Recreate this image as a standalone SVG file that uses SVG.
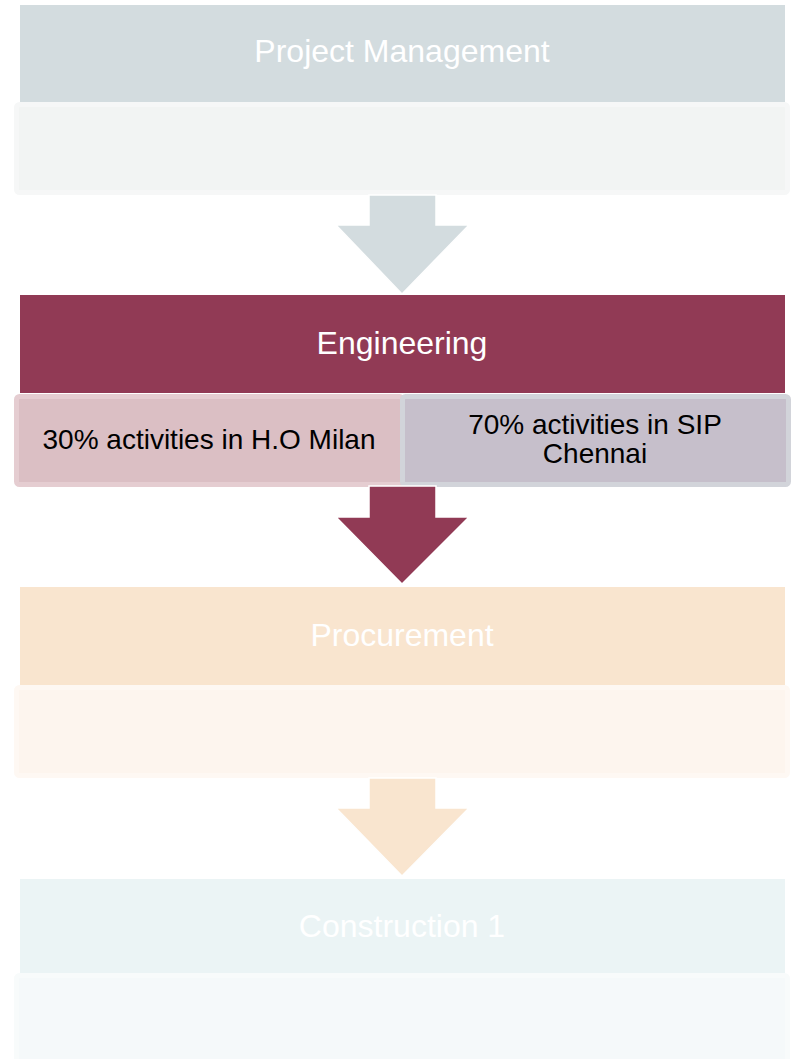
<svg xmlns="http://www.w3.org/2000/svg" width="792" height="1059" viewBox="0 0 792 1059">
<style>
.hdr{font-family:"Liberation Sans",Arial,sans-serif;font-size:32px;text-anchor:middle;fill:#ffffff}
.sub{font-family:"Liberation Sans",Arial,sans-serif;font-size:28px;text-anchor:middle;fill:#000000}
.body{stroke-width:5}
.arrow{stroke:#ffffff;stroke-width:1.5;stroke-linejoin:miter}
</style>
<rect width="792" height="1059" fill="#ffffff"/>
<g id="project-management">
  <rect x="20" y="5" width="765" height="97" fill="#d3dcdf"/>
  <rect class="body" x="16.5" y="104.5" width="771" height="88" rx="3" fill="#f2f4f3" stroke="#f6f7f7"/>
  <text class="hdr" x="402" y="62">Project Management</text>
</g>
<g id="engineering">
  <rect x="20" y="295" width="765" height="98" fill="#913a55"/>
  <text class="hdr" x="402" y="354">Engineering</text>
  <g id="engineering-milan">
    <rect class="body" x="16.5" y="396.5" width="386" height="88" rx="3" fill="#dbbfc4" stroke="#e5cdd1"/>
    <text class="sub" x="209" y="449">30% activities in H.O Milan</text>
  </g>
  <g id="engineering-chennai">
    <rect class="body" x="402.5" y="396.5" width="386" height="88" rx="3" fill="#c6bfcb" stroke="#d2d4da"/>
    <text class="sub" x="595" y="434">70% activities in SIP</text>
    <text class="sub" x="595" y="463">Chennai</text>
  </g>
</g>
<g id="procurement">
  <rect x="20" y="587" width="765" height="98" fill="#f9e5cf"/>
  <rect class="body" x="16.5" y="687.5" width="771" height="88" rx="3" fill="#fdf5ee" stroke="#fef8f3"/>
  <text class="hdr" x="402" y="646">Procurement</text>
</g>
<g id="construction-1">
  <rect x="20" y="879" width="765" height="94" fill="#ebf4f5"/>
  <rect class="body" x="16.5" y="975.5" width="771" height="90" rx="3" fill="#f5f9fa" stroke="#f8fbfb"/>
  <text class="hdr" x="402" y="937">Construction 1</text>
</g>
<g id="connectors">
  <polygon class="arrow" fill="#d3dcdf" points="369,195 436,195 436,225 469,225 402,294 336,225 369,225"/>
  <polygon class="arrow" fill="#913a55" points="369,486 436,486 436,517 469,517 402,584 336,517 369,517"/>
  <polygon class="arrow" fill="#f9e5cf" points="369,778 436,778 436,808 469,808 402,876 336,808 369,808"/>
</g>
</svg>
